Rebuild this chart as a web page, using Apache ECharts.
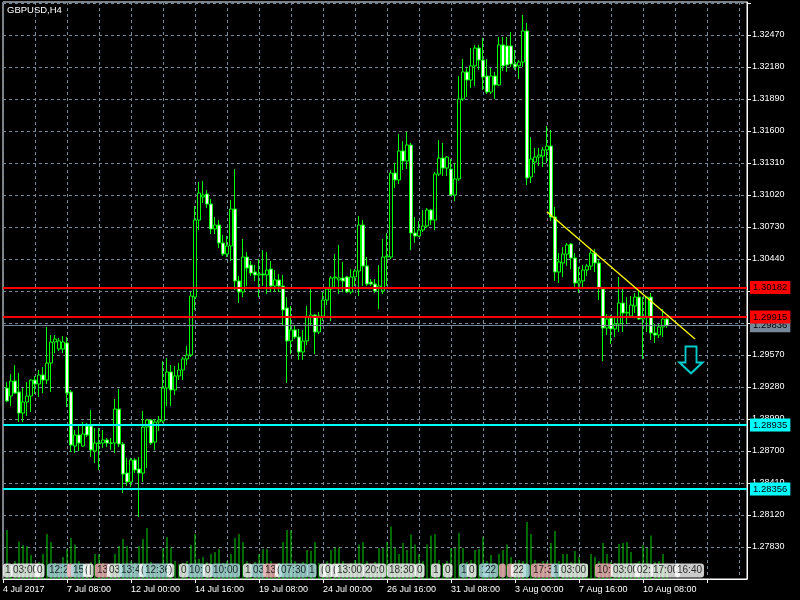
<!DOCTYPE html>
<html><head><meta charset="utf-8">
<script src="https://cdn.jsdelivr.net/npm/echarts@6/dist/echarts.min.js"></script>
<style>html,body{margin:0;padding:0;background:#000}#c{width:800px;height:600px}</style>
</head><body><div id="c"></div>
<script>
const symbolName = 'GBPUSD,H4';
const timeLabels = ['4 Jul 2017','7 Jul 08:00','12 Jul 00:00','14 Jul 16:00','19 Jul 08:00','24 Jul 00:00','26 Jul 16:00','31 Jul 08:00','3 Aug 00:00','7 Aug 16:00','10 Aug 08:00'];
const open = [1.29271,1.29198,1.29334,1.29235,1.29044,1.29144,1.29198,1.29343,1.29307,1.29389,
1.29343,1.29497,1.29688,1.29624,1.29624,1.29679,1.29235,1.28745,1.28845,1.28745,
1.28926,1.28926,1.287,1.28768,1.28772,1.288,1.28772,1.28772,1.2908,1.28763,
1.285,1.28419,1.28618,1.28537,1.285,1.28917,1.28981,1.28781,1.28963,1.28972,
1.29271,1.29416,1.29253,1.2938,1.29434,1.29534,1.2957,1.30095,1.30793,1.31002,
1.31029,1.30938,1.30712,1.30748,1.30585,1.30485,1.30558,1.30893,1.30241,1.30141,
1.30458,1.30385,1.30322,1.30295,1.30304,1.30295,1.30349,1.30195,1.3025,1.30195,
1.29996,1.29697,1.29797,1.29733,1.29597,1.29697,1.29914,1.29932,1.29778,1.29923,
1.30068,1.30168,1.30268,1.3025,1.30268,1.30277,1.30141,1.30277,1.30331,1.30748,
1.30376,1.30231,1.30213,1.30177,1.3015,1.30458,1.30458,1.31219,1.31156,1.31419,
1.31328,1.31473,1.30675,1.30648,1.30703,1.30739,1.30884,1.30793,1.3121,1.31355,
1.31264,1.31255,1.3102,1.31165,1.3189,1.32135,1.32062,1.3219,1.32352,1.32243,
1.32098,1.31953,1.32098,1.32017,1.3238,1.32371,1.32371,1.32207,1.3219,1.32225,
1.32506,1.31183,1.31319,1.31364,1.31373,1.31428,1.31464,1.3082,1.30322,1.30404,
1.30485,1.30576,1.30449,1.30222,1.30241,1.3034,1.30376,1.30494,1.30404,1.30168,
1.29815,1.29905,1.29806,1.29851,1.30041,1.2995,1.29923,1.30014,1.30095,1.29896,
1.29914,1.30095,1.29769,1.29751,1.29824,1.29896];
const close = [1.29153,1.29334,1.29225,1.29044,1.29144,1.29198,1.29343,1.29307,1.29389,1.29343,
1.29497,1.29688,1.29715,1.29697,1.29688,1.29225,1.28754,1.28845,1.28772,1.28854,
1.28845,1.28709,1.28772,1.28774,1.288,1.28772,1.2877,1.2908,1.28763,1.28491,
1.28419,1.28618,1.28528,1.285,1.28917,1.28981,1.28772,1.28963,1.28981,1.29271,
1.29416,1.29253,1.2938,1.29434,1.29534,1.2957,1.30104,1.30793,1.31038,1.3102,
1.30938,1.30712,1.30748,1.30585,1.30485,1.30558,1.30893,1.30241,1.30141,1.30458,
1.30358,1.30313,1.30295,1.30304,1.30295,1.3034,1.30195,1.3025,1.30195,1.29978,
1.29697,1.29797,1.29733,1.29597,1.29697,1.29914,1.29932,1.29778,1.29923,1.30068,
1.30168,1.30268,1.30277,1.30268,1.30241,1.30141,1.30277,1.30331,1.30748,1.30376,
1.30213,1.30213,1.3015,1.30195,1.30458,1.30467,1.31219,1.31156,1.31419,1.31328,
1.31473,1.30675,1.30648,1.30703,1.30739,1.30884,1.30793,1.3121,1.31355,1.31264,
1.31364,1.3102,1.31165,1.3189,1.32135,1.32062,1.3219,1.32352,1.32243,1.32089,
1.31953,1.32098,1.32017,1.3238,1.3219,1.32198,1.32207,1.3218,1.32225,1.32506,
1.31174,1.31346,1.31364,1.31382,1.31428,1.31464,1.3082,1.30322,1.30413,1.30485,
1.30567,1.30449,1.30222,1.30241,1.3034,1.30376,1.30494,1.30404,1.30177,1.29815,
1.29896,1.29806,1.29851,1.30041,1.2995,1.29956,1.30023,1.30095,1.29896,1.29914,
1.30095,1.29769,1.29751,1.29824,1.29896,1.29836];
const high = [1.29325,1.29398,1.29479,1.29407,1.29271,1.29325,1.29352,1.2938,1.29434,1.29461,
1.29824,1.29751,1.29751,1.29724,1.29742,1.29733,1.29253,1.2889,1.28926,1.28963,
1.28954,1.29071,1.28908,1.28908,1.2889,1.28818,1.28818,1.29171,1.29262,1.28781,
1.28636,1.28636,1.28636,1.28645,1.29062,1.2899,1.2899,1.2899,1.29017,1.29515,
1.29543,1.29479,1.2947,1.29497,1.29552,1.29652,1.30141,1.3092,1.31138,1.31147,
1.31065,1.30984,1.3082,1.30793,1.30657,1.30648,1.30975,1.31255,1.30286,1.30621,
1.30503,1.30422,1.30385,1.3044,1.30521,1.30503,1.30422,1.3034,1.30304,1.30295,
1.30095,1.30014,1.29842,1.29806,1.29797,1.30014,1.30177,1.29941,1.29959,1.30141,
1.30177,1.30286,1.30485,1.30567,1.30413,1.30286,1.30349,1.30349,1.30829,1.30793,
1.30458,1.30259,1.30259,1.30385,1.30621,1.30675,1.31246,1.3131,1.31573,1.31509,
1.31591,1.31491,1.3082,1.30784,1.30884,1.30902,1.30893,1.31228,1.31518,1.31491,
1.31373,1.31346,1.3131,1.32098,1.32252,1.32171,1.32352,1.3238,1.3238,1.32443,
1.32252,1.32171,1.32135,1.32452,1.32452,1.32452,1.32497,1.32334,1.32243,1.32651,
1.32578,1.31545,1.31446,1.31446,1.31455,1.31645,1.31609,1.30911,1.30494,1.30549,
1.30585,1.30585,1.30494,1.30367,1.30385,1.30395,1.30521,1.3053,1.30431,1.30186,
1.29941,1.29932,1.29923,1.30277,1.30186,1.30095,1.30104,1.30132,1.3015,1.30095,
1.30095,1.30132,1.29851,1.29851,1.29987,1.29914];
const low = [1.29144,1.29108,1.29216,1.28963,1.28963,1.29017,1.29053,1.29216,1.29189,1.29225,
1.29307,1.29235,1.29588,1.29606,1.29588,1.29099,1.28691,1.28682,1.287,1.28736,
1.28827,1.28645,1.28591,1.28528,1.28727,1.28736,1.28709,1.28682,1.28736,1.28319,
1.28383,1.28373,1.285,1.28102,1.28419,1.28546,1.28754,1.28709,1.28881,1.28954,
1.29108,1.29108,1.29207,1.29343,1.29343,1.29479,1.29552,1.29978,1.30703,1.30947,
1.30902,1.30666,1.30666,1.30539,1.30467,1.30458,1.30422,1.3016,1.30041,1.30095,
1.30195,1.30286,1.30241,1.30095,1.30195,1.30123,1.30141,1.30141,1.30141,1.29833,
1.29316,1.29579,1.29715,1.29525,1.29525,1.29661,1.29833,1.29579,1.2976,1.29878,
1.30023,1.29878,1.30177,1.30123,1.30141,1.30132,1.30123,1.30195,1.30104,1.30195,
1.30195,1.30195,1.30132,1.29987,1.30123,1.30195,1.3044,1.31083,1.3112,1.31246,
1.31255,1.30521,1.30585,1.30639,1.30684,1.30721,1.30748,1.30703,1.31192,1.31192,
1.31192,1.31011,1.30965,1.31147,1.31872,1.31908,1.31989,1.32008,1.32153,1.31971,
1.31935,1.31935,1.3189,1.32008,1.32144,1.32135,1.3218,1.32153,1.32071,1.3218,
1.31111,1.31129,1.31219,1.31283,1.31274,1.3131,1.30784,1.30241,1.30222,1.30277,
1.30376,1.30349,1.30177,1.30132,1.30168,1.30286,1.3034,1.30322,1.30068,1.29515,
1.29751,1.2967,1.29733,1.29778,1.29778,1.29851,1.29914,1.2995,1.29887,1.29534,
1.29778,1.29706,1.29679,1.29724,1.29733,1.29815];
const volume = [4900,1400,1800,3750,3400,3300,2400,1500,1700,2500,
4500,3700,1600,1400,2200,3000,4100,3450,1800,1500,
1300,1700,2500,2500,1600,1200,1400,2500,3300,4000,
3300,1800,1600,3300,4000,5100,1700,1500,1400,3100,
4200,3150,1800,1500,1600,1800,3400,4500,2000,2200,
1700,2500,2700,3000,1600,1800,2500,4100,4500,3700,
1800,1500,1700,2500,3000,3000,1800,1400,1600,3700,
4900,4900,1800,1500,1700,2900,2800,3700,1600,1400,
1800,2900,3150,3150,1800,1400,1600,1900,3450,3700,
1800,1400,1700,3100,3100,3700,5260,3100,2500,3600,
2900,4460,3450,2500,1800,3450,4350,4500,1900,1600,
1800,3100,3100,4600,3100,1700,1900,2900,3000,4200,
1800,2400,1600,2500,2900,3450,2200,1600,1900,1800,
5700,4500,1900,1600,1800,1700,3600,4800,1800,2500,
2500,1700,2800,2200,1600,1500,2500,2200,1800,3600,
2500,1700,1600,3500,3600,3700,2700,1600,1800,3400,
3100,4350,1700,1800,2500,1000];
const resistanceLevels = [1.30182, 1.29915];
const supportLevels = [1.28935, 1.28356];
const bidPrice = 1.29836;
const trendStart = [136, 1.30868];
const trendEnd = [173, 1.29716];
const arrowPoint = [172, 1.29525];
const stripPrice = 1.27617;
// [category index, text, kind]  w=white b=light blue p=pink
const stripLabels = [[0,'1','w'],[2,'03:00','w'],[8,'0','w'],[11,'12:2','b'],[16,' ','p'],[17,'15','b'],[20,'(','w'],[21,'|','w'],[23,'13','p'],[26,'03','w'],[29,'13:4','b'],[34,'(','w'],[35,'12:36','b'],[41,')','w'],[44,'0','w'],[46,'10:','b'],[50,'0','w'],[52,'10:00','b'],[60,'1','w'],[62,'03','b'],[65,'13','p'],[68,'(','w'],[69,'07:30','b'],[76,'1','b'],[79,'(','w'],[80,'0','w'],[82,'(','w'],[83,'13:00','w'],[90,'20:0','w'],[96,'18:30','w'],[103,'0','w'],[107,'1','w'],[110,'0','w'],[114,'1','b'],[116,'0','w'],[119,'1','b'],[120,'22','b'],[124,' ','p'],[126,' ','p'],[127,'22','w'],[130,' ','b'],[132,'17:3','p'],[137,'1','b'],[139,'03:00','w'],[148,'10:','p'],[152,'03:00','w'],[158,'02:','w'],[162,'17:00','w'],[168,'16:40','w']];

const N = 187;
const categories = Array.from({length:N}, (_, i) => String(i));
const candleData = categories.map((_, i) => {
  const k = i - 1;
  return (k >= 0 && k < open.length) ? [open[k], close[k], low[k], high[k]] : '-';
});
const volData = categories.map((_, i) => {
  const k = i - 1;
  return (k >= 0 && k < volume.length) ? volume[k] : '-';
});
const stripColors = {w:'#ffffff', b:'#b0e0e6', p:'#ffb6c1'};
const FONT = 'Liberation Sans';

const chart = echarts.init(document.getElementById('c'), null, {renderer:'canvas'});
const hLine = (v, color, width) => ({
  yAxis: v,
  lineStyle: {color: color, width: width, type: 'solid'},
  label: {show: true, position: 'end', distance: 3, formatter: v.toFixed(5),
    backgroundColor: color, color: '#000', padding: [2,3,1,3], fontSize: 9.5, fontFamily: FONT}
});
chart.setOption({
  animation: false,
  backgroundColor: '#000',
  title: {text: symbolName, left: 7, top: 5, padding: 0,
    textStyle: {color:'#fff', fontSize: 9.5, fontWeight:'normal', fontFamily: FONT}},
  grid: {left: 2, top: 2, width: 745, height: 577, show: true, borderColor: '#fff', borderWidth: 1, backgroundColor: '#000'},
  xAxis: {
    type: 'category', data: categories, boundaryGap: false,
    axisLine: {show: true, lineStyle: {color:'#fff'}},
    axisTick: {show: true, length: 4, interval: (i) => i % 16 === 0, lineStyle: {color:'#fff'}},
    axisLabel: {show: true, interval: (i) => i % 16 === 0, formatter: (v, i) => timeLabels[i / 16] || '',
      align: 'left', color: '#fff', fontSize: 9, fontFamily: FONT, margin: 6},
    splitLine: {show: true, interval: (i) => i % 8 === 0, lineStyle: {color:'#778899', type:[3,3], width:1}}
  },
  yAxis: [{
    type: 'value', position: 'right', min: 1.2754, max: 1.32769, interval: 0.0029, scale: true,
    axisLine: {show: true, lineStyle: {color:'#fff'}},
    axisTick: {show: true, length: 4, lineStyle: {color:'#fff'}},
    axisLabel: {color:'#fff', fontSize: 9, fontFamily: FONT, margin: 5, showMinLabel: false, showMaxLabel: false,
      formatter: (v) => (v > 1.3270 || v < 1.2760) ? '' : v.toFixed(5)},
    splitLine: {show: true, lineStyle: {color:'#778899', type:[3,3], width:1}}
  }, {
    type: 'value', min: 0, max: 57700, show: false
  }],
  series: [{
    type: 'bar', xAxisIndex: 0, yAxisIndex: 1, data: volData, barWidth: 1,
    itemStyle: {color: '#00d200'}, silent: true, z: 1
  }, {
    type: 'candlestick', data: candleData, barWidth: 3, z: 3,
    itemStyle: {color: '#000', color0: '#fff', borderColor: '#00ff00', borderColor0: '#00ff00', borderWidth: 1},
    markLine: {
      silent: true, symbol: ['none','none'], animation: false, precision: 5,
      data: [
        hLine(bidPrice, '#778899', 1),
        hLine(resistanceLevels[0], '#ff0000', 2),
        hLine(resistanceLevels[1], '#ff0000', 2),
        hLine(supportLevels[0], '#00ffff', 2),
        hLine(supportLevels[1], '#00ffff', 2),
        [{coord: trendStart, lineStyle: {color:'#ffff00', width: 1.3, type: 'solid', opacity: 1}, label:{show:false}}, {coord: trendEnd}]
      ]
    }
  }, {
    type: 'scatter', data: [arrowPoint], z: 5,
    symbol: 'path://M6,0 L17,0 L17,16 L23,16 L11.5,27 L0,16 L6,16 Z', symbolSize: [23, 27],
    itemStyle: {color: '#000', borderColor: '#00ffff', borderWidth: 2}, silent: true
  }, {
    type: 'scatter', symbolSize: 0, z: 6, silent: true,
    data: stripLabels.map(s => ({value: [s[0], stripPrice],
      label: {show: true, position: 'right', distance: 0, formatter: s[1], color: '#000', lineHeight: 11,
        backgroundColor: stripColors[s[2]], borderRadius: 3, padding: [2,2,1,2], fontSize: 10, fontFamily: FONT}}))
  }]
});
</script></body></html>
